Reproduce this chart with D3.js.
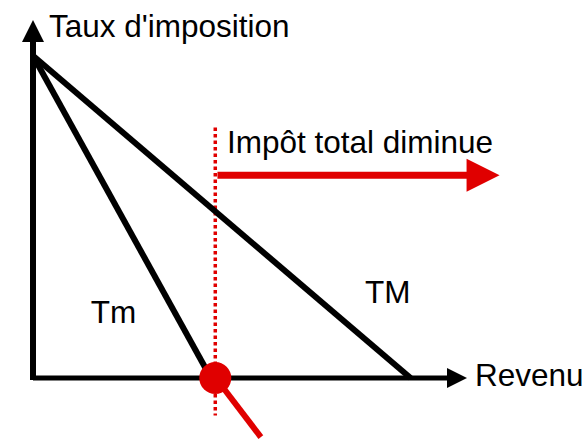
<!DOCTYPE html>
<html>
<head>
<meta charset="utf-8">
<script src="https://cdn.jsdelivr.net/npm/d3@7"></script>
<style>
  body { margin: 0; background: #fff; }
  text { font-family: "Liberation Sans", Arial, sans-serif; }
</style>
</head>
<body>
<script>
// tax rate lines: [revenu, taux]
var tmLine = [[0, 90], [41, 0]];
var tMLine = [[0, 90], [87, 0]];
var redTail = [[44, -3], [52.5, -16.5]];
var cutPoint = [42, 0];
var cutDotted = [[42, 70], [42, -10.5]];
var arrowLine = [[42.5, 56.6], [107.5, 56.6]];
var labels = [
  { text: "Tm", pos: [13.3, 15.4] },
  { text: "TM", pos: [76.5, 21] }
];

var width = 587, height = 439;
var svg = d3.select('body').append('svg').attr('width', width).attr('height', height);

var x = d3.scaleLinear().domain([0, 100]).range([33, 467]);
var y = d3.scaleLinear().domain([0, 100]).range([378, 20]);
var line = d3.line().x(function (d) { return x(d[0]); }).y(function (d) { return y(d[1]); });

// axes
svg.append('line').attr('x1', x(0)).attr('y1', y(0) + 2).attr('x2', x(0)).attr('y2', y(94))
   .attr('stroke', '#000').attr('stroke-width', 6);
svg.append('path').attr('d', 'M' + x(0) + ',' + y(100) + 'L' + (x(0) - 11) + ',' + (y(100) + 22) + 'L' + (x(0) + 11) + ',' + (y(100) + 22) + 'Z')
   .attr('fill', '#000');
svg.append('line').attr('x1', x(0)).attr('y1', y(0)).attr('x2', x(96)).attr('y2', y(0))
   .attr('stroke', '#000').attr('stroke-width', 5);
svg.append('path').attr('d', 'M' + x(100) + ',' + y(0) + 'L' + (x(100) - 20) + ',' + (y(0) - 10) + 'L' + (x(100) - 20) + ',' + (y(0) + 10) + 'Z')
   .attr('fill', '#000');

svg.append('text').attr('x', 49).attr('y', 37).attr('font-size', 31.5).text("Taux d'imposition");
svg.append('text').attr('x', 475).attr('y', 386).attr('font-size', 31.5).text('Revenu');

// dotted red line
svg.append('path').attr('d', line(cutDotted)).attr('stroke', '#e00000').attr('stroke-width', 3.5)
   .attr('stroke-dasharray', '3.5,3').attr('fill', 'none');

// tax lines
[tmLine, tMLine].forEach(function (l) {
  svg.append('path').attr('d', line(l)).attr('stroke', '#000').attr('stroke-width', 6).attr('fill', 'none');
});

svg.selectAll('text.lbl').data(labels).enter().append('text')
   .attr('class', 'lbl')
   .attr('x', function (d) { return x(d.pos[0]); })
   .attr('y', function (d) { return y(d.pos[1]); })
   .attr('font-size', 31.5)
   .text(function (d) { return d.text; });

// red tail and dot
svg.append('path').attr('d', line(redTail)).attr('stroke', '#e00000').attr('stroke-width', 6).attr('fill', 'none');
svg.append('circle').attr('cx', x(cutPoint[0])).attr('cy', y(cutPoint[1])).attr('r', 16).attr('fill', '#e00000');

// red arrow
svg.append('path').attr('d', line([arrowLine[0], [100, arrowLine[1][1]]])).attr('stroke', '#e00000').attr('stroke-width', 7).attr('fill', 'none');
var ax = x(arrowLine[1][0]), ay = y(arrowLine[1][1]);
svg.append('path').attr('d', 'M' + ax + ',' + ay + 'L' + (ax - 33) + ',' + (ay - 16.5) + 'L' + (ax - 33) + ',' + (ay + 16.5) + 'Z')
   .attr('fill', '#e00000');
svg.append('text').attr('x', 227).attr('y', 153).attr('font-size', 31.5).text('Impôt total diminue');
</script>
</body>
</html>
